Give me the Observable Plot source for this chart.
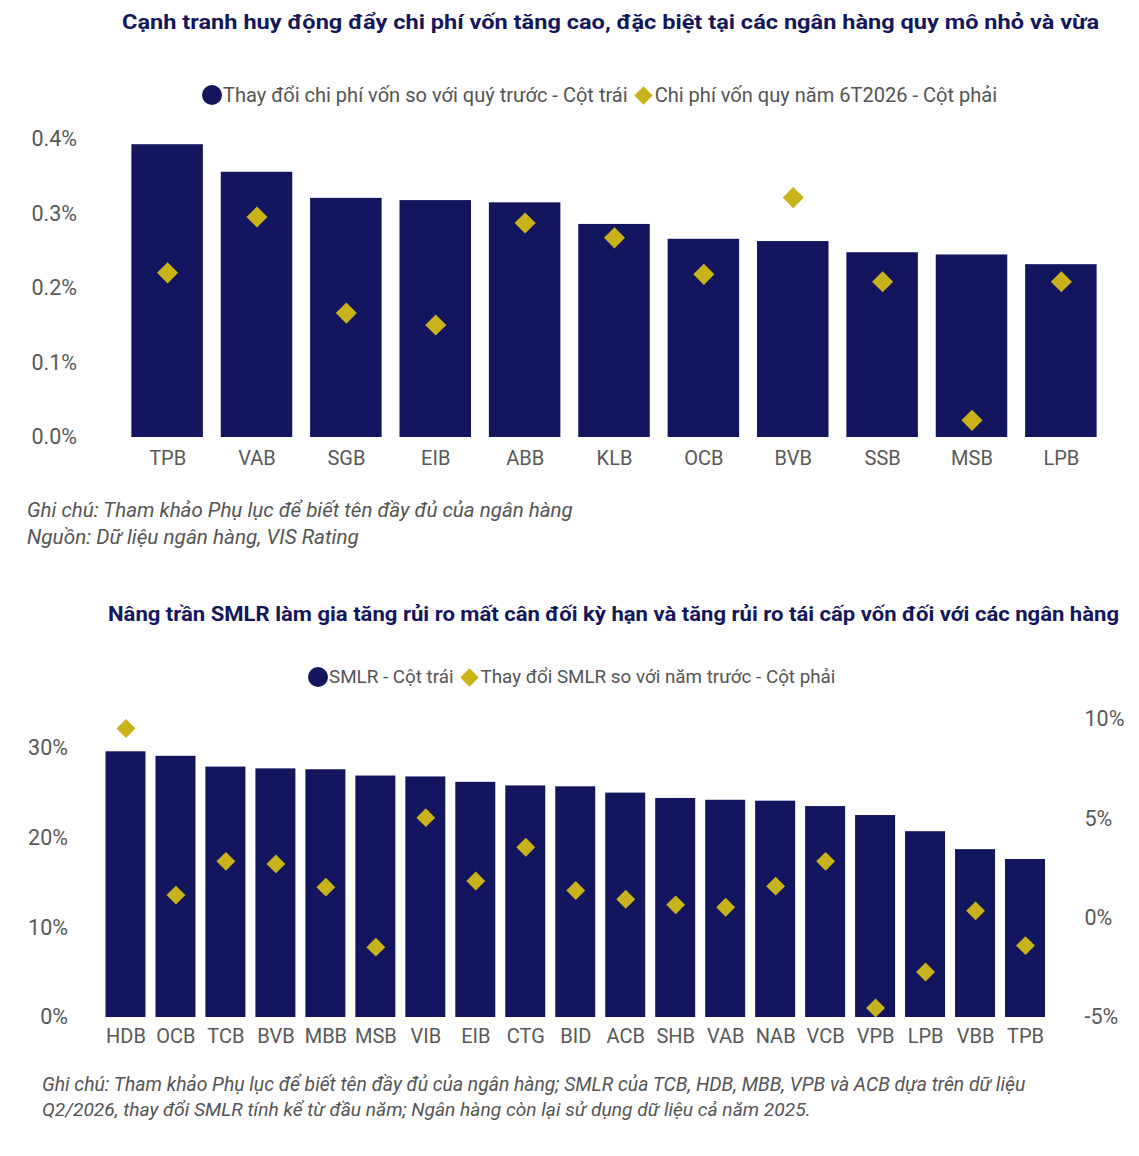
<!DOCTYPE html>
<html>
<head>
<meta charset="utf-8">
<script src="https://cdn.jsdelivr.net/npm/d3@7"></script>
<script src="https://cdn.jsdelivr.net/npm/@observablehq/plot@0.6"></script>
<style>
  html, body { margin: 0; padding: 0; background: #fff; }
  #page { position: relative; width: 1139px; height: 1156px; font-family: Roboto, "Noto Sans", sans-serif; overflow: hidden; }
  .title { position: absolute; white-space: nowrap; font-weight: bold; font-size: 20px; line-height: 24px; color: #15175c; transform-origin: left center; }
  .legend { position: absolute; white-space: nowrap; font-size: 19px; line-height: 24px; color: #555; display: flex; align-items: center; }
  .legend .c { display: inline-block; width: 20px; height: 20px; border-radius: 50%; background: #13155e; margin-right: 1px; flex: none; }
  .legend .d { display: inline-block; width: 13px; height: 13px; background: #c9b31b; transform: rotate(45deg); margin: 0 5px 0 9px; flex: none; }
  .note { position: absolute; white-space: nowrap; font-style: italic; font-size: 19px; line-height: 26px; color: #555; }
  .chart { position: absolute; left: 0; }
</style>
</head>
<body>
<div id="page">
  <div class="title" id="t1" style="left:122px; top:10px;">Cạnh tranh huy động đẩy chi phí vốn tăng cao, đặc biệt tại các ngân hàng quy mô nhỏ và vừa</div>
  <div class="legend" id="l1" style="left:202px; top:83px;"><span class="c"></span>Thay đổi chi phí vốn so với quý trước - Cột trái<span class="d"></span>Chi phí vốn quy năm 6T2026 - Cột phải</div>
  <div class="chart" id="chart1" style="top:120px;"></div>
  <div class="note" id="n1" style="left:27px; top:497px;">Ghi chú: Tham khảo Phụ lục để biết tên đầy đủ của ngân hàng</div>
  <div class="note" id="n2" style="left:27px; top:524px;">Nguồn: Dữ liệu ngân hàng, VIS Rating</div>

  <div class="title" id="t2" style="left:108px; top:602px;">Nâng trần SMLR làm gia tăng rủi ro mất cân đối kỳ hạn và tăng rủi ro tái cấp vốn đối với các ngân hàng</div>
  <div class="legend" id="l2" style="left:308px; top:665px;"><span class="c"></span>SMLR - Cột trái<span class="d"></span>Thay đổi SMLR so với năm trước - Cột phải</div>
  <div class="chart" id="chart2" style="top:700px;"></div>
  <div class="note" id="n3" style="left:42px; top:1072px;">Ghi chú: Tham khảo Phụ lục để biết tên đầy đủ của ngân hàng; SMLR của TCB, HDB, MBB, VPB và ACB dựa trên dữ liệu</div>
  <div class="note" id="n4" style="left:42px; top:1097px;">Q2/2026, thay đổi SMLR tính kể từ đầu năm; Ngân hàng còn lại sử dụng dữ liệu cả năm 2025.</div>
</div>
<script>
// ---- Chart 1 data ----
const banks1 = ["TPB","VAB","SGB","EIB","ABB","KLB","OCB","BVB","SSB","MSB","LPB"];
const costChange = [0.393,0.356,0.321,0.318,0.315,0.286,0.266,0.263,0.248,0.245,0.232];
// Right-axis series (axis hidden in the original), read in left-axis units
const costAnnual = [0.221,0.296,0.167,0.151,0.288,0.268,0.219,0.322,0.209,0.023,0.209];
const ticks1 = [0,0.1,0.2,0.3,0.4];

// ---- Chart 2 data ----
const banks2 = ["HDB","OCB","TCB","BVB","MBB","MSB","VIB","EIB","CTG","BID","ACB","SHB","VAB","NAB","VCB","VPB","LPB","VBB","TPB"];
const smlr = [29.6,29.1,27.9,27.7,27.6,26.9,26.8,26.2,25.8,25.7,25.0,24.4,24.2,24.1,23.5,22.5,20.7,18.7,17.6];
const smlrChange = [9.55,1.16,2.86,2.73,1.56,-1.46,5.06,1.87,3.57,1.39,0.95,0.67,0.55,1.61,2.86,-4.52,-2.71,0.37,-1.38];
const ticksLeft2 = [0,10,20,30];
const ticksRight2 = [-5,0,5,10];

const NAVY = "#13155e";
const GOLD = "#c9b31b";
const TICK = "#595959";

const d1 = banks1.map((b,i) => ({bank:b, bar:costChange[i], dot:costAnnual[i]}));

const chart1 = Plot.plot({
  width: 1139, height: 360,
  marginLeft: 113.5, marginRight: 24.5, marginTop: 19, marginBottom: 43,
  style: {fontFamily: "Roboto, sans-serif", fontSize: "20px", color: TICK, background: "#fff"},
  x: {domain: banks1, padding: 0.2, round: false, label: null},
  y: {domain: [0, 0.4], label: null},
  marks: [
    Plot.barY(d1, {x: "bank", y: "bar", fill: NAVY}),
    Plot.dot(d1, {x: "bank", y: "dot", symbol: "diamond2", r: 9.5, fill: GOLD, stroke: null}),
    Plot.axisX({tickSize: 0, tickPadding: 13, fontSize: 20, fill: TICK}),
    Plot.axisY(ticks1, {tickSize: 0, tickPadding: 37, fontSize: 21.5, fill: TICK, tickFormat: d => d.toFixed(1) + "%"})
  ]
});
document.getElementById("chart1").appendChild(chart1);

// Chart 2: dual axis — right-axis values mapped into left-axis units
const L2 = 33.2, R0 = -5, R1 = 10;
const toLeft = v => (v - R0) / (R1 - R0) * L2;
const fromLeft = y => y / L2 * (R1 - R0) + R0;
const d2 = banks2.map((b,i) => ({bank:b, bar:smlr[i], dot:toLeft(smlrChange[i])}));

const chart2 = Plot.plot({
  width: 1139, height: 350,
  marginLeft: 95.5, marginRight: 84, marginTop: 19, marginBottom: 33,
  style: {fontFamily: "Roboto, sans-serif", fontSize: "20px", color: TICK, background: "#fff"},
  x: {domain: banks2, padding: 0.2, round: false, label: null},
  y: {domain: [0, L2], label: null},
  marks: [
    Plot.barY(d2, {x: "bank", y: "bar", fill: NAVY}),
    Plot.dot(d2, {x: "bank", y: "dot", symbol: "diamond2", r: 8.5, fill: GOLD, stroke: null}),
    Plot.axisX({tickSize: 0, tickPadding: 11, fontSize: 20, fill: TICK}),
    Plot.axisY(ticksLeft2, {tickSize: 0, tickPadding: 28, fontSize: 21.5, fill: TICK, tickFormat: d => d + "%"}),
    Plot.axisY(ticksRight2.map(toLeft), {anchor: "right", tickSize: 0, tickPadding: 29, fontSize: 21.5, fill: TICK, tickFormat: d => Math.round(fromLeft(d)) + "%"})
  ]
});
document.getElementById("chart2").appendChild(chart2);

// Fit text widths to the reference layout
function fitScale(id, target) {
  const el = document.getElementById(id);
  const w = el.getBoundingClientRect().width;
  el.style.transform = `scaleX(${target / w})`;
}
function fitFont(id, target) {
  const el = document.getElementById(id);
  const fs = parseFloat(getComputedStyle(el).fontSize);
  const w = el.getBoundingClientRect().width;
  el.style.fontSize = (fs * target / w) + "px";
}
fitScale("t1", 977);
fitScale("t2", 1011);
fitFont("l1", 798);
fitFont("l2", 527);
fitFont("n1", 546);
fitFont("n2", 332);
fitFont("n3", 984);
fitFont("n4", 769);
</script>
</body>
</html>
